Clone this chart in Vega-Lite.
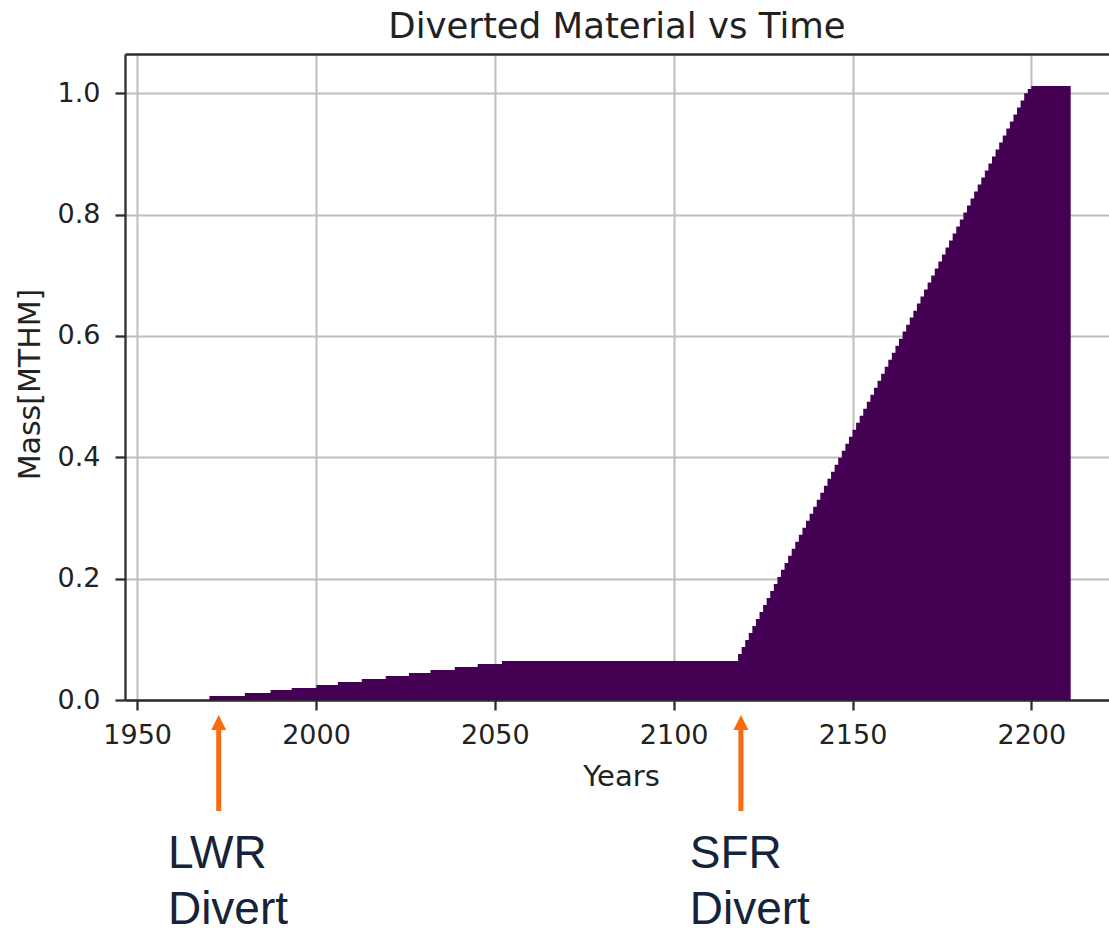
{
  "$schema": "https://vega.github.io/schema/vega-lite/v6.json",
  "autosize": {"type": "none"},
  "padding": {"left": 125, "top": 54, "right": 0, "bottom": 228},
  "width": 984,
  "height": 646,
  "background": "white",
  "title": {"text": "Diverted Material vs Time", "font": "DejaVu Sans", "fontSize": 35.5, "fontWeight": "normal", "color": "#222222", "anchor": "middle", "baseline": "alphabetic", "offset": -19},
  "datasets": {
    "diverted": [
      {"year": 1970.2, "mass": 0.0066},
      {"year": 1980.1, "mass": 0.0115},
      {"year": 1987.3, "mass": 0.0165},
      {"year": 1993.2, "mass": 0.0198},
      {"year": 2000.1, "mass": 0.0247},
      {"year": 2006.1, "mass": 0.0297},
      {"year": 2012.8, "mass": 0.0346},
      {"year": 2019.5, "mass": 0.0396},
      {"year": 2026.0, "mass": 0.0445},
      {"year": 2032.0, "mass": 0.0494},
      {"year": 2038.8, "mass": 0.0544},
      {"year": 2045.2, "mass": 0.0593},
      {"year": 2052.0, "mass": 0.0643},
      {"year": 2118, "mass": 0.0759},
      {"year": 2119, "mass": 0.0874},
      {"year": 2120, "mass": 0.0990},
      {"year": 2121, "mass": 0.1105},
      {"year": 2122, "mass": 0.1221},
      {"year": 2123, "mass": 0.1336},
      {"year": 2124, "mass": 0.1452},
      {"year": 2125, "mass": 0.1567},
      {"year": 2126, "mass": 0.1683},
      {"year": 2127, "mass": 0.1798},
      {"year": 2128, "mass": 0.1914},
      {"year": 2129, "mass": 0.2029},
      {"year": 2130, "mass": 0.2145},
      {"year": 2131, "mass": 0.2260},
      {"year": 2132, "mass": 0.2376},
      {"year": 2133, "mass": 0.2491},
      {"year": 2134, "mass": 0.2607},
      {"year": 2135, "mass": 0.2722},
      {"year": 2136, "mass": 0.2838},
      {"year": 2137, "mass": 0.2953},
      {"year": 2138, "mass": 0.3069},
      {"year": 2139, "mass": 0.3184},
      {"year": 2140, "mass": 0.3300},
      {"year": 2141, "mass": 0.3415},
      {"year": 2142, "mass": 0.3531},
      {"year": 2143, "mass": 0.3646},
      {"year": 2144, "mass": 0.3762},
      {"year": 2145, "mass": 0.3877},
      {"year": 2146, "mass": 0.3993},
      {"year": 2147, "mass": 0.4108},
      {"year": 2148, "mass": 0.4224},
      {"year": 2149, "mass": 0.4339},
      {"year": 2150, "mass": 0.4455},
      {"year": 2151, "mass": 0.4570},
      {"year": 2152, "mass": 0.4686},
      {"year": 2153, "mass": 0.4801},
      {"year": 2154, "mass": 0.4917},
      {"year": 2155, "mass": 0.5032},
      {"year": 2156, "mass": 0.5148},
      {"year": 2157, "mass": 0.5263},
      {"year": 2158, "mass": 0.5379},
      {"year": 2159, "mass": 0.5494},
      {"year": 2160, "mass": 0.5610},
      {"year": 2161, "mass": 0.5725},
      {"year": 2162, "mass": 0.5841},
      {"year": 2163, "mass": 0.5956},
      {"year": 2164, "mass": 0.6072},
      {"year": 2165, "mass": 0.6187},
      {"year": 2166, "mass": 0.6303},
      {"year": 2167, "mass": 0.6418},
      {"year": 2168, "mass": 0.6534},
      {"year": 2169, "mass": 0.6649},
      {"year": 2170, "mass": 0.6765},
      {"year": 2171, "mass": 0.6880},
      {"year": 2172, "mass": 0.6996},
      {"year": 2173, "mass": 0.7111},
      {"year": 2174, "mass": 0.7227},
      {"year": 2175, "mass": 0.7342},
      {"year": 2176, "mass": 0.7458},
      {"year": 2177, "mass": 0.7573},
      {"year": 2178, "mass": 0.7689},
      {"year": 2179, "mass": 0.7804},
      {"year": 2180, "mass": 0.7920},
      {"year": 2181, "mass": 0.8035},
      {"year": 2182, "mass": 0.8151},
      {"year": 2183, "mass": 0.8266},
      {"year": 2184, "mass": 0.8382},
      {"year": 2185, "mass": 0.8497},
      {"year": 2186, "mass": 0.8613},
      {"year": 2187, "mass": 0.8728},
      {"year": 2188, "mass": 0.8844},
      {"year": 2189, "mass": 0.8959},
      {"year": 2190, "mass": 0.9075},
      {"year": 2191, "mass": 0.9190},
      {"year": 2192, "mass": 0.9306},
      {"year": 2193, "mass": 0.9421},
      {"year": 2194, "mass": 0.9537},
      {"year": 2195, "mass": 0.9652},
      {"year": 2196, "mass": 0.9768},
      {"year": 2197, "mass": 0.9883},
      {"year": 2198, "mass": 0.9999},
      {"year": 2199, "mass": 1.0070},
      {"year": 2200, "mass": 1.0120},
      {"year": 2211, "mass": 1.0120}
    ],
    "arrows": [
      {"year": 1972.8, "tip": -0.0371, "top": -0.045, "bottom": -0.183},
      {"year": 2118.8, "tip": -0.0371, "top": -0.045, "bottom": -0.183}
    ],
    "notes": [
      {"year": 1958.6, "mass": -0.2769, "text": "LWR"},
      {"year": 1958.6, "mass": -0.3692, "text": "Divert"},
      {"year": 2104.5, "mass": -0.2769, "text": "SFR"},
      {"year": 2104.5, "mass": -0.3692, "text": "Divert"}
    ]
  },
  "layer": [
    {
      "data": {"name": "diverted"},
      "mark": {"type": "area", "interpolate": "step-after", "color": "#440154"},
      "encoding": {
        "x": {"field": "year", "type": "quantitative", "scale": {"domain": [1946.6, 2221.71], "nice": false, "zero": false},
              "axis": {"orient": "bottom", "values": [1950, 2000, 2050, 2100, 2150, 2200], "format": "d", "labelPadding": 12, "title": "Years", "titlePadding": 14, "labelFlush": false, "titleFontSize": 29, "titleX": 496}},
        "y": {"field": "mass", "type": "quantitative", "scale": {"domain": [0, 1.0648], "nice": false, "zero": false},
              "axis": {"values": [0, 0.2, 0.4, 0.6, 0.8, 1.0], "format": ".1f", "labelPadding": 15, "title": "Mass[MTHM]", "titlePadding": 12, "titleY": 330}}
      }
    },
    {
      "data": {"name": "arrows"},
      "mark": {"type": "rule", "color": "#fb6a0e", "strokeWidth": 5},
      "encoding": {
        "x": {"field": "year", "type": "quantitative", "axis": null},
        "y": {"field": "top", "type": "quantitative", "title": "Mass[MTHM]"},
        "y2": {"field": "bottom"}
      }
    },
    {
      "data": {"name": "arrows"},
      "mark": {"type": "point", "shape": "M0,-1L1,1L-1,1Z", "size": 225, "filled": true, "color": "#fb6a0e", "opacity": 1},
      "encoding": {
        "x": {"field": "year", "type": "quantitative", "axis": null},
        "y": {"field": "tip", "type": "quantitative", "title": "Mass[MTHM]"}
      }
    },
    {
      "data": {"name": "notes"},
      "mark": {"type": "text", "align": "left", "baseline": "alphabetic", "font": "Liberation Sans", "fontSize": 46, "color": "#17223b"},
      "encoding": {
        "x": {"field": "year", "type": "quantitative",
              "axis": {"orient": "top", "labels": false, "ticks": false, "grid": false, "title": null, "domain": true}},
        "y": {"field": "mass", "type": "quantitative", "title": "Mass[MTHM]"},
        "text": {"field": "text"}
      }
    }
  ],
  "resolve": {"axis": {"x": "independent"}},
  "config": {
    "view": {"stroke": null},
    "axis": {
      "labelFont": "DejaVu Sans", "labelFontSize": 27, "labelColor": "#222222",
      "titleFont": "DejaVu Sans", "titleFontSize": 30, "titleFontWeight": "normal", "titleColor": "#222222",
      "tickColor": "#2d2d2d", "tickWidth": 2.3, "tickSize": 10,
      "domainColor": "#2d2d2d", "domainWidth": 2.3,
      "gridColor": "#bdbdbd", "gridWidth": 2, "gridOpacity": 1,
      "zindex": 1
    }
  }
}
